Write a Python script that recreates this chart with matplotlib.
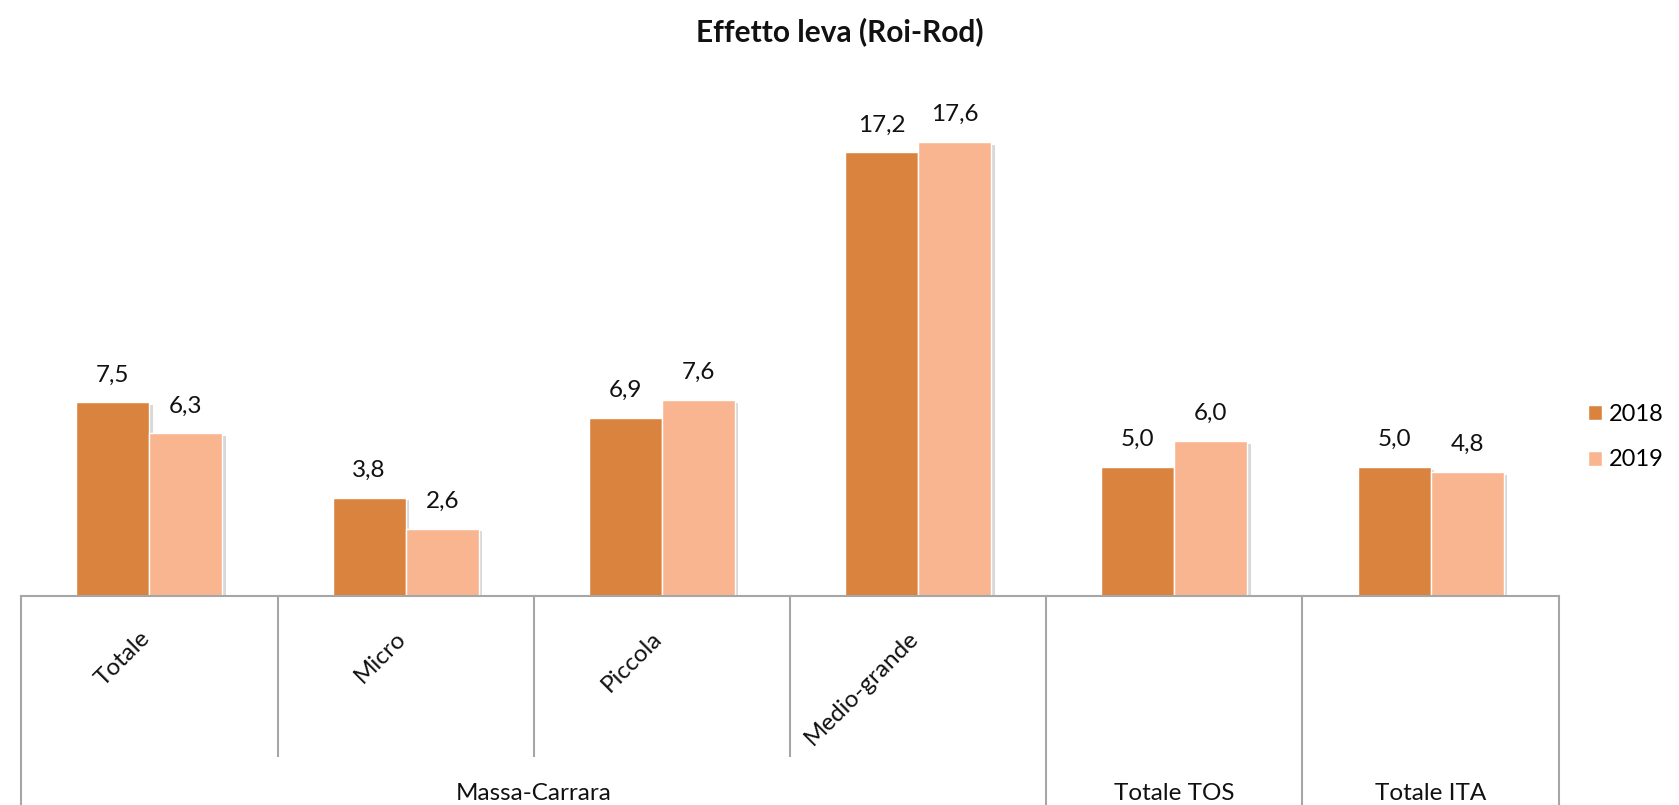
import numpy as np
import matplotlib.pyplot as plt
import matplotlib.patheffects as pe
from matplotlib.transforms import blended_transform_factory
from matplotlib.patches import Patch

categorie = ['Totale', 'Micro', 'Piccola', 'Medio-grande', '', '']
gruppi = ['Massa-Carrara', 'Totale TOS', 'Totale ITA']
gruppi_pos = [1.5, 4, 5]
v2018 = [7.5, 3.8, 6.9, 17.2, 5.0, 5.0]
v2019 = [6.3, 2.6, 7.6, 17.6, 6.0, 4.8]
anni = ['2018', '2019']

c18 = '#DA833F'
c19 = '#F8B590'
grigio = '#A6A6A6'

plt.rcParams['font.family'] = ['Lato', 'DejaVu Sans']

fig = plt.figure(figsize=(16.79, 8.05), dpi=100)
ax = fig.add_axes([21.3/1679, 209.3/805, (1558.7-21.3)/1679, (595.7-80)/805])
ax.set(xlim=(-0.5, 5.5), ylim=(0, 20))
ax.axis('off')

x = np.arange(len(v2018))
w = 0.285
ombra = [pe.SimplePatchShadow(offset=(2.5, -2), shadow_rgbFace='#808080', alpha=0.3), pe.Normal()]
b1 = ax.bar(x - w/2, v2018, w, color=c18, edgecolor='white', linewidth=1, path_effects=ombra, zorder=3)
b2 = ax.bar(x + w/2, v2019, w, color=c19, edgecolor='white', linewidth=1, path_effects=ombra, zorder=3)

for bars in (b1, b2):
    for b in bars:
        h = b.get_height()
        ax.annotate(f'{h:.1f}'.replace('.', ','), (b.get_x() + b.get_width()/2, h),
                    xytext=(0, 15), textcoords='offset points', ha='center', va='baseline',
                    fontsize=17.5, color='#111111')

# category table under the axis
tr = blended_transform_factory(ax.transData, fig.transFigure)
y0 = 209.3/805
ax.plot([-0.5, 5.5], [y0, y0], transform=tr, color=grigio, lw=1.5, clip_on=False, zorder=4)
for xs in [-0.5, 3.5, 4.5, 5.5]:
    ax.plot([xs, xs], [0, y0], transform=tr, color=grigio, lw=1.5, clip_on=False)
for xs in [0.5, 1.5, 2.5]:
    ax.plot([xs, xs], [49/805, y0], transform=tr, color=grigio, lw=1.5, clip_on=False)

for xi, lab in zip(x, categorie):
    if lab:
        ax.text(xi - 3/256, (209.3 - 39)/805, lab, transform=tr, rotation=45,
                rotation_mode='anchor', ha='right', va='center', fontsize=17.5, color='#111111')

for xp, lab in zip(gruppi_pos, gruppi):
    ax.text(xp, 12/805, lab, transform=tr, ha='center', va='center', fontsize=17.5, color='#111111')

fig.text(0.5, 1 - 32/805, 'Effetto leva (Roi-Rod)', ha='center', va='center',
         fontsize=21.5, fontweight='bold', color='#111111')

handles = [Patch(facecolor=c18, edgecolor='white'), Patch(facecolor=c19, edgecolor='white')]
fig.legend(handles, anni, loc='center left', bbox_to_anchor=(1588/1679, 1 - 437/805),
           frameon=False, fontsize=17, handlelength=0.6, handleheight=0.6,
           handletextpad=0.3, labelspacing=1.05, borderaxespad=0, borderpad=0)

plt.savefig('out.png', dpi=100, facecolor='white')
